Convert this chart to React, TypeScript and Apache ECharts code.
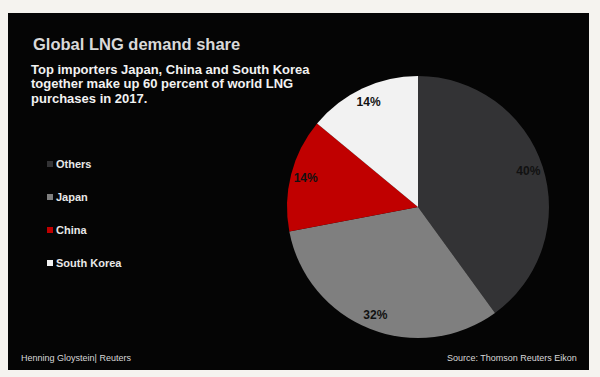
import React, { useEffect, useRef } from "react";
import * as echarts from "echarts";

const categories = ["Others", "Japan", "China", "South Korea"];
const shares = [40, 32, 14, 14];
const colors = ["#333335", "#7f7f7f", "#c00000", "#f2f2f2"];

const titleText = "Global LNG demand share";
const subtitleLines = [
  "Top importers Japan, China and South Korea",
  "together make up 60 percent of world LNG",
  "purchases in 2017.",
];
const creditText = "Henning Gloystein| Reuters";
const sourceText = "Source: Thomson Reuters Eikon";

export default function App() {
  const ref = useRef<HTMLDivElement>(null);
  useEffect(() => {
    if (!ref.current) return;
    const chart = echarts.init(ref.current, null, { renderer: "svg" });
    const data = categories.map((name, i) => ({
      name,
      value: shares[i],
      itemStyle: { color: colors[i] },
    }));
    chart.setOption({
      animation: false,
      backgroundColor: "#f5f3ef",
      graphic: [
        {
          type: "rect",
          shape: { x: 8, y: 13, width: 581, height: 357 },
          style: { fill: "#050505" },
          z: -10,
        },
      ],
      title: [
        {
          text: titleText,
          left: 33,
          top: 35,
          padding: 0,
          textStyle: {
            fontFamily: "Liberation Sans, Arial, sans-serif",
            fontSize: 16.5,
            fontWeight: "bold",
            color: "#d9d9d9",
          },
        },
        {
          text: subtitleLines.join("\n"),
          left: 31,
          top: 62,
          padding: 0,
          textStyle: {
            fontFamily: "Liberation Sans, Arial, sans-serif",
            fontSize: 13,
            fontWeight: "bold",
            lineHeight: 14.5,
            color: "#f2f2f2",
          },
        },
        {
          text: creditText,
          left: 21,
          top: 353,
          padding: 0,
          textStyle: {
            fontFamily: "Liberation Sans, Arial, sans-serif",
            fontSize: 9,
            fontWeight: "normal",
            color: "#d8d8d8",
          },
        },
        {
          text: sourceText,
          right: 23,
          top: 353,
          padding: 0,
          textStyle: {
            fontFamily: "Liberation Sans, Arial, sans-serif",
            fontSize: 9,
            fontWeight: "normal",
            color: "#d8d8d8",
          },
        },
      ],
      legend: {
        data: categories,
        orient: "vertical",
        left: 47,
        top: 157,
        padding: 0,
        icon: "rect",
        itemWidth: 6,
        itemHeight: 6,
        itemGap: 19,
        selectedMode: false,
        textStyle: {
          fontFamily: "Liberation Sans, Arial, sans-serif",
          fontSize: 11,
          fontWeight: "bold",
          lineHeight: 14,
          color: "#e8e8e8",
          padding: [0, 0, 0, -2],
        },
      },
      series: [
        {
          type: "pie",
          center: [418, 207],
          radius: [0, 131],
          startAngle: 90,
          clockwise: true,
          silent: true,
          label: { show: false },
          labelLine: { show: false },
          itemStyle: { borderWidth: 0 },
          data,
        },
        {
          type: "pie",
          center: [418, 207],
          radius: [95, 131],
          startAngle: 90,
          clockwise: true,
          silent: true,
          itemStyle: { color: "rgba(0,0,0,0)", borderWidth: 0 },
          label: {
            show: true,
            position: "inside",
            formatter: "{c}%",
            fontFamily: "Liberation Sans, Arial, sans-serif",
            fontSize: 12,
            fontWeight: "bold",
            color: "#111111",
          },
          labelLine: { show: false },
          data: categories.map((name, i) => ({ name, value: shares[i] })),
        },
      ],
    });
    return () => chart.dispose();
  }, []);
  return (
    <div
      ref={ref}
      style={{ position: "absolute", left: 0, top: 0, width: 600, height: 377 }}
    />
  );
}
